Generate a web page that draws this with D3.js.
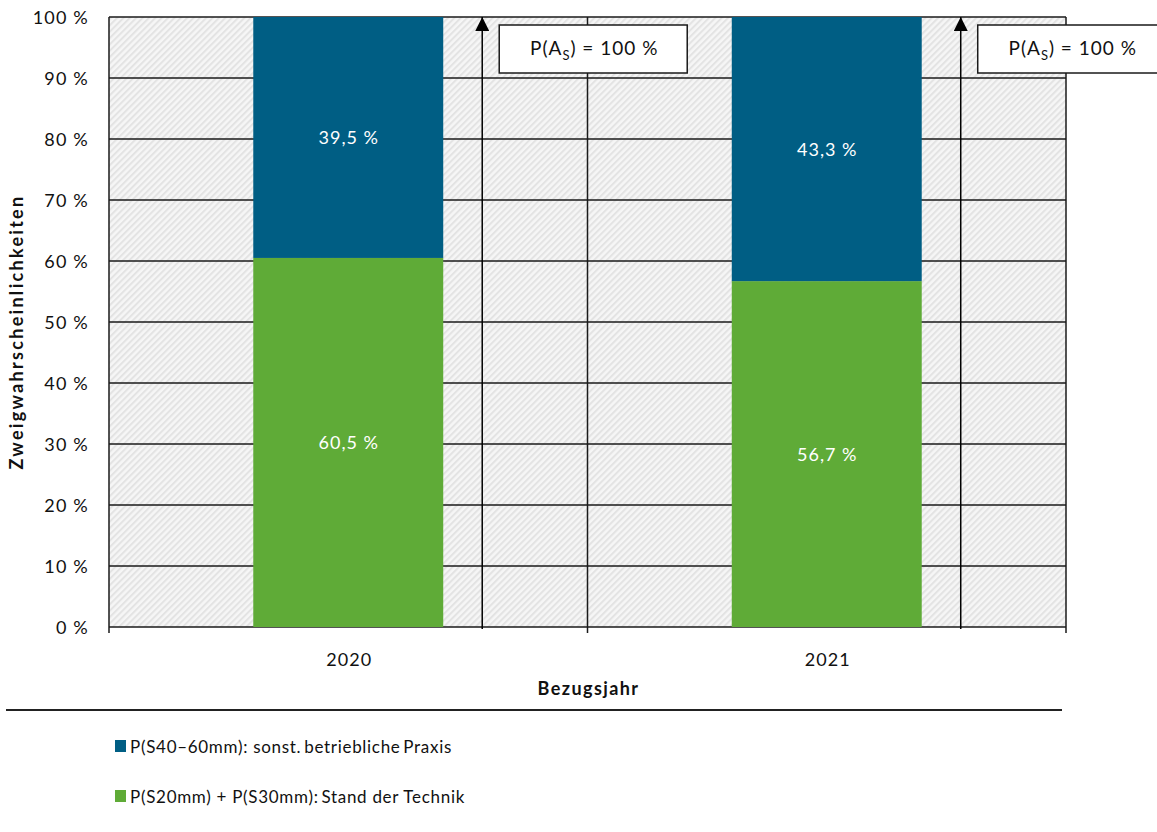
<!DOCTYPE html>
<html>
<head>
<meta charset="utf-8">
<script src="https://cdn.jsdelivr.net/npm/d3@7"></script>
<style>
  body { margin: 0; background: #fff; }
  svg { display: block; font-family: Lato, "Open Sans", sans-serif; }
</style>
</head>
<body>
<svg id="chart" width="1157" height="832"></svg>
<script>
// Bezugsjahre and stacked probabilities (percent)
const years = ["2020", "2021"];
const standDerTechnik = [60.5, 56.7];   // P(S20mm) + P(S30mm)
const sonstPraxis = [39.5, 43.3];       // P(S40–60mm)
const totalProb = [100, 100];           // P(A_S)
const yTicks = [0, 10, 20, 30, 40, 50, 60, 70, 80, 90, 100];

const seriesNames = ["P(S40\u201360mm): sonst.\u2009betriebliche\u2009Praxis", "P(S20mm) + P(S30mm):\u2009Stand der Technik"];
const colors = { blue: "#005e84", green: "#5fab37" };

const svg = d3.select("#chart");
const margin = { left: 109, right: 1066, top: 17, bottom: 627 };

const x = d3.scaleBand().domain(years).range([margin.left, margin.right]).paddingInner(0).paddingOuter(0);
const y = d3.scaleLinear().domain([0, 100]).range([margin.bottom, margin.top]);

// hatched plot background
const defs = svg.append("defs");
const pat = defs.append("pattern").attr("id", "hatch").attr("patternUnits", "userSpaceOnUse")
  .attr("width", 4.5).attr("height", 4.5).attr("patternTransform", "rotate(45)");
pat.append("rect").attr("width", 4.5).attr("height", 4.5).attr("fill", "#f6f6f6");
pat.append("rect").attr("width", 2).attr("height", 4.5).attr("fill", "#e3e3e3");

svg.append("rect").attr("x", margin.left).attr("y", margin.top)
  .attr("width", margin.right - margin.left).attr("height", margin.bottom - margin.top)
  .attr("fill", "url(#hatch)");

// horizontal gridlines
svg.append("g").selectAll("line").data(yTicks).join("line")
  .attr("x1", margin.left).attr("x2", margin.right)
  .attr("y1", d => y(d)).attr("y2", d => y(d))
  .attr("stroke", "#1a1a1a").attr("stroke-width", 1.5);

// vertical category dividers and frame
const dividers = [margin.left, x("2021"), margin.right];
svg.append("g").selectAll("line").data(dividers).join("line")
  .attr("x1", d => d).attr("x2", d => d)
  .attr("y1", margin.top).attr("y2", margin.bottom + 6)
  .attr("stroke", "#1a1a1a").attr("stroke-width", 1.5);

// stacked bars
const barW = x.bandwidth() * 0.397;
const bars = svg.append("g");
const fmt = v => v.toFixed(1).replace(".", ",") + " %";
years.forEach((yr, i) => {
  const cx = x(yr) + x.bandwidth() / 2;
  bars.append("rect").attr("x", cx - barW / 2).attr("width", barW)
    .attr("y", y(standDerTechnik[i])).attr("height", y(0) - y(standDerTechnik[i]))
    .attr("fill", colors.green);
  bars.append("rect").attr("x", cx - barW / 2).attr("width", barW)
    .attr("y", y(standDerTechnik[i] + sonstPraxis[i]))
    .attr("height", y(standDerTechnik[i]) - y(standDerTechnik[i] + sonstPraxis[i]))
    .attr("fill", colors.blue);
  bars.append("text").attr("x", cx + 0.5).attr("y", (y(0) + y(standDerTechnik[i])) / 2)
    .attr("text-anchor", "middle").attr("dominant-baseline", "central")
    .attr("fill", "#fff").attr("font-size", 18).attr("letter-spacing", 1).text(fmt(standDerTechnik[i]));
  bars.append("text").attr("x", cx + 0.5).attr("y", (y(standDerTechnik[i]) + y(standDerTechnik[i] + sonstPraxis[i])) / 2)
    .attr("text-anchor", "middle").attr("dominant-baseline", "central")
    .attr("fill", "#fff").attr("font-size", 18).attr("letter-spacing", 1).text(fmt(sonstPraxis[i]));
});

// total probability arrows with label boxes
defs.append("marker").attr("id", "arrowhead").attr("viewBox", "0 0 10 10")
  .attr("refX", 10).attr("refY", 5).attr("markerWidth", 14).attr("markerHeight", 14)
  .attr("markerUnits", "userSpaceOnUse").attr("orient", "auto")
  .append("path").attr("d", "M0,0 L10,5 L0,10 Z").attr("fill", "#000");

const arrows = svg.append("g");
years.forEach((yr, i) => {
  const ax = x(yr) + x.bandwidth() * 0.78;
  arrows.append("line").attr("x1", ax).attr("x2", ax)
    .attr("y1", y(0) + 2).attr("y2", y(totalProb[i]))
    .attr("stroke", "#000").attr("stroke-width", 1.5)
    .attr("marker-end", "url(#arrowhead)");
  const bx = ax + 17, by = 25, bw = 188, bh = 48;
  arrows.append("rect").attr("x", bx).attr("y", by).attr("width", bw).attr("height", bh)
    .attr("fill", "#fff").attr("stroke", "#1a1a1a").attr("stroke-width", 1.5);
  const t = arrows.append("text").attr("x", bx + bw / 2 + 1).attr("y", by + bh / 2 + 6)
    .attr("text-anchor", "middle").attr("font-size", 19).attr("letter-spacing", 1).attr("fill", "#111");
  t.append("tspan").text("P(A");
  t.append("tspan").attr("font-size", 13).attr("dy", 5).text("S");
  t.append("tspan").attr("dy", -5).text(") = " + totalProb[i] + " %");
});

// y axis labels
svg.append("g").selectAll("text").data(yTicks).join("text")
  .attr("x", 89).attr("y", d => y(d)).attr("dominant-baseline", "central")
  .attr("text-anchor", "end").attr("font-size", 18).attr("letter-spacing", 1.2).attr("fill", "#111")
  .text(d => d + " %");

svg.append("text").attr("transform", `translate(23,${332}) rotate(-90)`)
  .attr("text-anchor", "middle").attr("font-size", 18).attr("font-weight", "bold")
  .attr("letter-spacing", 2.3).attr("fill", "#111")
  .text("Zweigwahrscheinlichkeiten");

// x axis labels
svg.append("g").selectAll("text").data(years).join("text")
  .attr("x", d => x(d) + x.bandwidth() / 2 + 1).attr("y", 666)
  .attr("text-anchor", "middle").attr("font-size", 18).attr("letter-spacing", 1).attr("fill", "#111").text(d => d);

svg.append("text").attr("x", x("2021") + 1).attr("y", 695).attr("text-anchor", "middle")
  .attr("font-size", 18).attr("font-weight", "bold").attr("letter-spacing", 1.4).attr("fill", "#111").text("Bezugsjahr");

// separator rule
svg.append("line").attr("x1", 6).attr("x2", 1062).attr("y1", 710).attr("y2", 710)
  .attr("stroke", "#222").attr("stroke-width", 2);

// legend
const legendItems = [
  { name: seriesNames[0], color: colors.blue, y: 746 },
  { name: seriesNames[1], color: colors.green, y: 796 }
];
const lg = svg.append("g");
legendItems.forEach(it => {
  lg.append("rect").attr("x", 115).attr("y", it.y - 6).attr("width", 11).attr("height", 12).attr("fill", it.color);
  lg.append("text").attr("x", 130).attr("y", it.y).attr("dominant-baseline", "central")
    .attr("font-size", 17).attr("letter-spacing", 0.7).attr("fill", "#111").text(it.name);
});
</script>
</body>
</html>
